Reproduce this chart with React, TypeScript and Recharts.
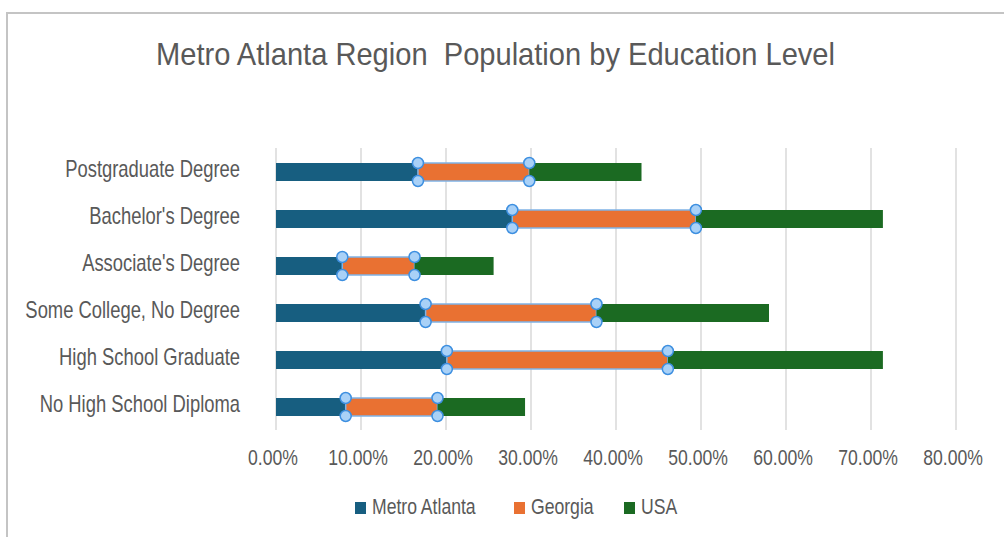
import { BarChart, Bar, XAxis, YAxis, CartesianGrid } from 'recharts';

const categories = [
  'Postgraduate Degree',
  "Bachelor's Degree",
  "Associate's Degree",
  'Some College, No Degree',
  'High School Graduate',
  'No High School Diploma',
];
const metroAtlanta = [0.167, 0.278, 0.078, 0.176, 0.201, 0.082];
const georgia = [0.131, 0.216, 0.085, 0.201, 0.26, 0.108];
const usa = [0.132, 0.22, 0.093, 0.203, 0.253, 0.103];
const xTicks = [0, 0.1, 0.2, 0.3, 0.4, 0.5, 0.6, 0.7, 0.8];
const seriesNames = ['Metro Atlanta', 'Georgia', 'USA'];

const COLORS = ['#175e80', '#e97132', '#1b6a22'];
const TEXT = '#595959';
const FONT = '"Liberation Sans", Arial, sans-serif';
const SQUEEZE = 'scale(0.8,1)';

const data = categories.map((name, i) => ({
  name,
  metro: metroAtlanta[i],
  georgia: georgia[i],
  usa: usa[i],
}));

const Handle = ({ cx, cy }) => (
  <circle cx={cx} cy={cy} r={5.5} fill="#a9d1f7" stroke="#3d8fe0" strokeWidth={1.5} />
);

// the selected (Georgia) series: outline + handles on its left edge
const GeorgiaShape = (props) => {
  const { x, y, width, height } = props;
  return (
    <g>
      <rect x={x} y={y} width={width} height={height} fill={COLORS[1]} stroke="#7fb3e6" strokeWidth={1.5} />
      <Handle cx={x} cy={y} />
      <Handle cx={x} cy={y + height} />
    </g>
  );
};

// USA bar is drawn after Georgia, so the right-hand handles go here to stay on top
const UsaShape = (props) => {
  const { x, y, width, height } = props;
  return (
    <g>
      <rect x={x} y={y} width={width} height={height} fill={COLORS[2]} />
      <Handle cx={x} cy={y} />
      <Handle cx={x} cy={y + height} />
    </g>
  );
};

const YTick = ({ x, y, payload }) => (
  <g transform={`translate(${x},${y + 5})`}>
    <text transform={SQUEEZE} textAnchor="end" fill={TEXT} fontSize={23} fontFamily={FONT}>
      {payload.value}
    </text>
  </g>
);

const XTick = ({ x, y, payload }) => (
  <g transform={`translate(${x - 3},${y + 35})`}>
    <text transform={SQUEEZE} textAnchor="middle" fill={TEXT} fontSize={22} fontFamily={FONT}>
      {(payload.value * 100).toFixed(2) + '%'}
    </text>
  </g>
);

const legendX = [355, 514, 624];

export default function App() {
  return (
    <div style={{ position: 'absolute', left: 0, top: 0, width: 1004, height: 537, background: '#fff' }}>
      <div style={{ position: 'absolute', left: 6, top: 12, width: 2, height: 525, background: '#c4c4c4' }} />
      <div style={{ position: 'absolute', left: 6, top: 12, width: 998, height: 2, background: '#c4c4c4' }} />
      <svg style={{ position: 'absolute', left: 0, top: 0 }} width={1004} height={537}>
        <text
          x={156}
          y={65}
          textLength={679}
          lengthAdjust="spacingAndGlyphs"
          fill={TEXT}
          fontSize={32}
          fontFamily={FONT}
          style={{ whiteSpace: 'pre' }}
        >
          Metro Atlanta Region  Population by Education Level
        </text>
        {seriesNames.map((s, i) => (
          <g key={s}>
            <rect x={legendX[i]} y={502} width={11} height={12} fill={COLORS[i]} />
            <g transform={`translate(${legendX[i] + 17},514)`}>
              <text transform={SQUEEZE} fill={TEXT} fontSize={22} fontFamily={FONT}>
                {s}
              </text>
            </g>
          </g>
        ))}
      </svg>
      <div style={{ position: 'absolute', left: 0, top: 0 }}>
        <BarChart
          width={1004}
          height={537}
          data={data}
          layout="vertical"
          barSize={18}
          margin={{ top: 148, right: 48, bottom: 0, left: 0 }}
        >
          <CartesianGrid horizontal={false} stroke="#d9d9d9" strokeWidth={1.5} />
          <XAxis
            type="number"
            domain={[0, 0.8]}
            ticks={xTicks}
            axisLine={false}
            tickLine={false}
            tickSize={0}
            tickMargin={0}
            height={107}
            tick={<XTick />}
            interval={0}
          />
          <YAxis
            type="category"
            dataKey="name"
            width={276}
            axisLine={false}
            tickLine={false}
            tickSize={0}
            tickMargin={36}
            tick={<YTick />}
            interval={0}
          />
          <Bar dataKey="metro" name={seriesNames[0]} stackId="a" fill={COLORS[0]} isAnimationActive={false} />
          <Bar
            dataKey="georgia"
            name={seriesNames[1]}
            stackId="a"
            fill={COLORS[1]}
            shape={<GeorgiaShape />}
            isAnimationActive={false}
          />
          <Bar
            dataKey="usa"
            name={seriesNames[2]}
            stackId="a"
            fill={COLORS[2]}
            shape={<UsaShape />}
            isAnimationActive={false}
          />
        </BarChart>
      </div>
    </div>
  );
}
